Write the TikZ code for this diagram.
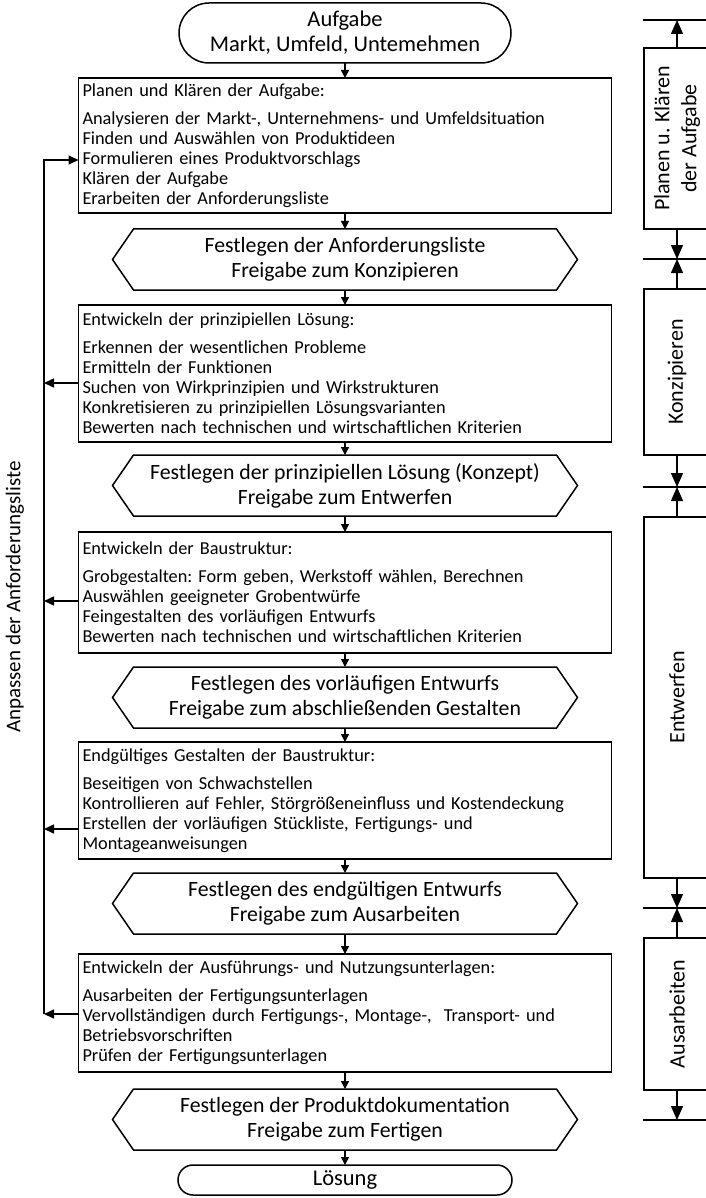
\documentclass[tikz,border=0pt]{standalone}
\usepackage{fontspec}
\setmainfont{Carlito}
\usetikzlibrary{arrows.meta}
\frenchspacing

% hexagonal decision gate: name, centre y, first line, second line
\newcommand\gate[4]{%
  \node[gatebox] (#1) at (345,#2) {#3\\#4};
  \draw[flowline] (#1.north west) -- (#1.north east) -- ([xshift=21pt]#1.east)
    -- (#1.south east) -- (#1.south west) -- ([xshift=-21pt]#1.west) -- cycle;}

\begin{document}
\begin{tikzpicture}[x=1pt,y=-1pt,
  every node/.style={inner sep=0pt,outer sep=0pt},
  flowline/.style={line width=1.5pt},
  stepbox/.style={draw,line width=1.5pt,text width=525pt,inner xsep=4pt,
    align=left,font=\fontsize{18.3}{20}\selectfont},
  gatebox/.style={minimum width=423pt,minimum height=61pt,align=center,
    font=\fontsize{21.8}{25}\selectfont},
  terminal/.style={draw,line width=1.5pt,align=center,
    font=\fontsize{22.5}{25}\selectfont},
  phasebox/.style={draw,line width=1.3pt,minimum width=66pt},
  phaselabel/.style={rotate=90,align=center,font=\fontsize{22}{27}\selectfont},
  farrow/.style={line width=1.5pt,-{Triangle[width=8pt,length=8pt]}},
  fbarrow/.style={line width=1.5pt,-{Triangle[width=9pt,length=10pt]}},
  parrow/.style={line width=1.3pt,-{Triangle[width=12pt,length=14pt]}},
  tick/.style={line width=1.3pt}]
\useasboundingbox (0,0) rectangle (705,1198);

% ---- main flow ----
\node[terminal,minimum width=332pt,minimum height=60pt,rounded corners=30pt]
  (start) at (345,33) {Aufgabe\\Markt, Umfeld, Untemehmen};

\node[stepbox,minimum height=135pt] (b1) at (345,145.5) {%
Planen und Klären der Aufgabe:\\[8pt]
Analysieren der Markt-, Unternehmens- und Umfeldsituation\\
Finden und Auswählen von Produktideen\\
Formulieren eines Produktvorschlags\\
Klären der Aufgabe\\
Erarbeiten der Anforderungsliste};

\gate{h1}{259.5}{Festlegen der Anforderungsliste}{Freigabe zum Konzipieren}

\node[stepbox,minimum height=137pt] (b2) at (345,373.5) {%
Entwickeln der prinzipiellen Lösung:\\[8pt]
Erkennen der wesentlichen Probleme\\
Ermitteln der Funktionen\\
Suchen von Wirkprinzipien und Wirkstrukturen\\
Konkretisieren zu prinzipiellen Lösungsvarianten\\
Bewerten nach technischen und wirtschaftlichen Kriterien};

\gate{h2}{485.5}{Festlegen der prinzipiellen Lösung (Konzept)}{Freigabe zum Entwerfen}

\node[stepbox,minimum height=121pt] (b3) at (345,592.5) {%
Entwickeln der Baustruktur:\\[8pt]
Grobgestalten: Form geben, Werkstoff wählen, Berechnen\\
Auswählen geeigneter Grobentwürfe\\
Feingestalten des vorläufigen Entwurfs\\
Bewerten nach technischen und wirtschaftlichen Kriterien};

\gate{h3}{697.5}{Festlegen des vorläufigen Entwurfs}{Freigabe zum abschließenden Gestalten}

\node[stepbox,minimum height=117pt] (b4) at (345,800.5) {%
Endgültiges Gestalten der Baustruktur:\\[8pt]
Beseitigen von Schwachstellen\\
Kontrollieren auf Fehler, Störgrößeneinfluss und Kostendeckung\\
Erstellen der vorläufigen Stückliste, Fertigungs- und\\
Montageanweisungen};

\gate{h4}{903.5}{Festlegen des endgültigen Entwurfs}{Freigabe zum Ausarbeiten}

\node[stepbox,minimum height=118pt] (b5) at (345,1013) {%
Entwickeln der Ausführungs- und Nutzungsunterlagen:\\[8pt]
Ausarbeiten der Fertigungsunterlagen\\
Vervollständigen durch Fertigungs-, Montage-,\ \ Transport- und\\
Betriebsvorschriften\\
Prüfen der Fertigungsunterlagen};

\gate{h5}{1119.5}{Festlegen der Produktdokumentation}{Freigabe zum Fertigen}

\node[terminal,minimum width=334pt,minimum height=30pt,rounded corners=15pt]
  (end) at (345,1180) {Lösung};

\draw[farrow] (start.south) -- (b1.north);
\draw[farrow] (b1.south) -- (h1.north);
\draw[farrow] (h1.south) -- (b2.north);
\draw[farrow] (b2.south) -- (h2.north);
\draw[farrow] (h2.south) -- (b3.north);
\draw[farrow] (b3.south) -- (h3.north);
\draw[farrow] (h3.south) -- (b4.north);
\draw[farrow] (b4.south) -- (h4.north);
\draw[farrow] (h4.south) -- (b5.north);
\draw[farrow] (b5.south) -- (h5.north);
\draw[farrow] (h5.south) -- (end.north);

% ---- feedback loop on the left ----
\coordinate (fbtop) at (44,160);
\coordinate (fbbot) at (44,1014);
\draw[fbarrow] (fbbot) -- (fbtop) -- (b1.west |- fbtop);
\coordinate (r2) at (78,383);
\coordinate (r3) at (78,601);
\coordinate (r4) at (78,829);
\coordinate (r5) at (78,1014);
\draw[fbarrow] (r2) -- (fbtop |- r2);
\draw[fbarrow] (r3) -- (fbtop |- r3);
\draw[fbarrow] (r4) -- (fbtop |- r4);
\draw[fbarrow] (r5) -- (fbbot);
\node[rotate=90,font=\fontsize{21}{25}\selectfont] (fblabel) at (15,597)
  {Anpassen der Anforderungsliste};

% ---- phase column on the right ----
\coordinate (t0) at (677,20);
\coordinate (t1) at (677,259);
\coordinate (t2) at (677,487);
\coordinate (t3) at (677,908);
\coordinate (t4) at (677,1120);
\foreach \t in {t0,t1,t2,t3,t4}
  \draw[tick] ([xshift=-34pt]\t) -- ([xshift=30pt]\t);

\node[phasebox,minimum height=181pt] (p1) at (677,138.5) {};
\node[phaselabel] at (p1) {Planen u. Klären\\der Aufgabe};
\node[phasebox,minimum height=166pt] (p2) at (677,372) {};
\node[phaselabel] at (p2) {Konzipieren};
\node[phasebox,minimum height=361pt] (p3) at (677,697.5) {};
\node[phaselabel] at (p3) {Entwerfen};
\node[phasebox,minimum height=152pt] (p4) at (677,1014) {};
\node[phaselabel] at (p4) {Ausarbeiten};

\draw[parrow] (p1.north) -- (t0);
\draw[parrow] (p1.south) -- (t1);
\draw[parrow] (p2.north) -- (t1);
\draw[parrow] (p2.south) -- (t2);
\draw[parrow] (p3.north) -- (t2);
\draw[parrow] (p3.south) -- (t3);
\draw[parrow] (p4.north) -- (t3);
\draw[parrow] (p4.south) -- (t4);
\end{tikzpicture}
\end{document}
